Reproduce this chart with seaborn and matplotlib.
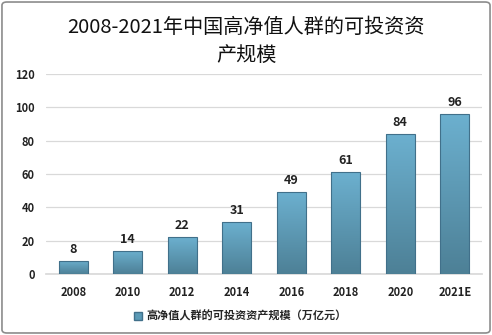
import numpy as np
import pandas as pd
import matplotlib
matplotlib.use("Agg")
import matplotlib.pyplot as plt
from matplotlib.patches import FancyBboxPatch, Patch
import seaborn as sns

years = ["2008", "2010", "2012", "2014", "2016", "2018", "2020", "2021E"]
assets = [8, 14, 22, 31, 49, 61, 84, 96]
series_name = "高净值人群的可投资资产规模（万亿元）"
title_lines = ["2008-2021年中国高净值人群的可投资资", "产规模"]

df = pd.DataFrame({"year": years, "value": assets})

sns.set_theme(style="white")
plt.rcParams["font.family"] = ["Noto Sans CJK SC", "DejaVu Sans"]

fig = plt.figure(figsize=(4.92, 3.35), dpi=100)
ax = fig.add_axes([46 / 492, 1 - 274 / 335, 436 / 492, 200 / 335])

sns.barplot(data=df, x="year", y="value", ax=ax, color="#5b9ab6",
            width=0.53, edgecolor="#41708a", linewidth=0.8, zorder=3)

# vertical gradient fill clipped to each bar
top_c = np.array([0x6c, 0xb0, 0xcf]) / 255
bot_c = np.array([0x4d, 0x80, 0x96]) / 255
grad = np.linspace(0, 1, 256)[:, None]
grad_img = bot_c[None, None, :] * (1 - grad[..., None]) + top_c[None, None, :] * grad[..., None]
for patch in ax.patches:
    x0, y0 = patch.get_x(), patch.get_y()
    w, h = patch.get_width(), patch.get_height()
    im = ax.imshow(grad_img, extent=[x0, x0 + w, y0, y0 + h], origin="lower",
                   aspect="auto", zorder=3.5)
    im.set_clip_path(patch)
    patch.set_facecolor("none")
    patch.set_zorder(4)

for i, v in enumerate(assets):
    ax.text(i, v + 3, f"{v}", ha="center", va="bottom", fontsize=9,
            fontweight="bold", color="#222222", zorder=5)

ax.set_xlim(-0.5, len(years) - 0.5)
ax.set_ylim(0, 120)
ax.set_yticks(range(0, 121, 20))
ax.yaxis.grid(True, color="#d9d9d9", linewidth=0.9, zorder=0)
ax.set_axisbelow(True)
for s in ["top", "right", "left"]:
    ax.spines[s].set_visible(False)
ax.spines["bottom"].set_color("#d9d9d9")
ax.set_xlabel("")
ax.set_ylabel("")
ax.tick_params(axis="both", length=0, labelsize=8, colors="#222222")
ax.tick_params(axis="x", pad=9)
ax.tick_params(axis="y", pad=8)
for lab in ax.get_xticklabels() + ax.get_yticklabels():
    lab.set_fontweight("bold")

fig.text(0.5, 1 - 27 / 335, title_lines[0], ha="center", va="center",
         fontsize=14.5, color="#111111")
fig.text(0.5, 1 - 55 / 335, title_lines[1], ha="center", va="center",
         fontsize=14.5, color="#111111")

handle = Patch(facecolor="#5b9ab6", edgecolor="#41708a")
fig.legend([handle], [series_name], loc="center", bbox_to_anchor=(240 / 492, 1 - 316 / 335),
           frameon=False, handlelength=0.7, handleheight=0.7, handletextpad=0.4,
           prop={"size": 8, "weight": "bold"})

border = FancyBboxPatch((0.004, 0.006), 0.992, 0.988, boxstyle="round,pad=0,rounding_size=0.01",
                        transform=fig.transFigure, fill=False, edgecolor="#8c8c8c",
                        linewidth=1.2)
fig.add_artist(border)

fig.savefig("out.png", dpi=100)
